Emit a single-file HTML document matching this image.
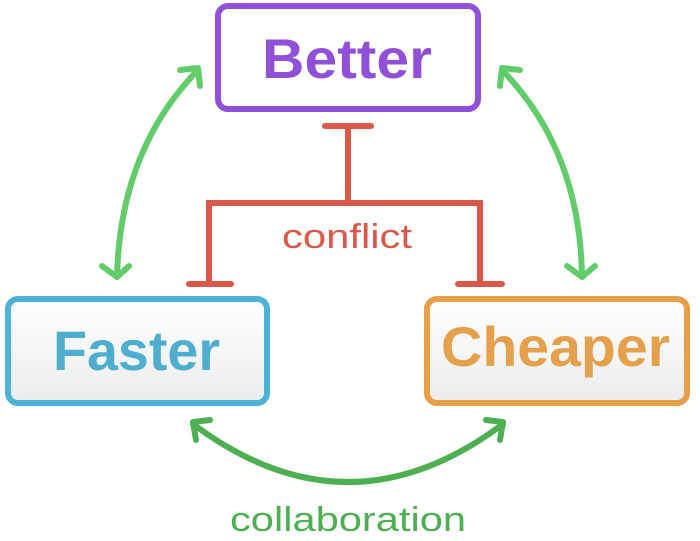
<!DOCTYPE html>
<html><head><style>
body{margin:0;background:#fff;}
svg{display:block;}
text{font-family:"Liberation Sans",sans-serif;}
</style></head><body>
<svg width="700" height="541" viewBox="0 0 700 541" xmlns="http://www.w3.org/2000/svg">
<defs>
<linearGradient id="g" x1="0" y1="0" x2="0" y2="1"><stop offset="0" stop-color="#ffffff"/><stop offset="1" stop-color="#ececec"/></linearGradient>
</defs>
<rect x="218" y="6" width="260" height="103" rx="10" fill="#fff" stroke="#9050d8" stroke-width="6"/>
<text x="262" y="78" font-size="56" font-weight="bold" fill="#9050d8" textLength="170" lengthAdjust="spacingAndGlyphs">Better</text>
<rect x="8" y="299" width="259" height="104" rx="10" fill="url(#g)" stroke="#4eb2d6" stroke-width="6"/>
<text x="53" y="370" font-size="56" font-weight="bold" fill="#4eaed0" textLength="167" lengthAdjust="spacingAndGlyphs">Faster</text>
<rect x="427" y="299" width="260" height="104" rx="10" fill="url(#g)" stroke="#e8a048" stroke-width="6"/>
<text x="441" y="366" font-size="56" font-weight="bold" fill="#e4a04a" textLength="229" lengthAdjust="spacingAndGlyphs">Cheaper</text>
<g stroke="#d9584a" stroke-width="6" fill="none" stroke-linecap="round">
<line x1="325" y1="126" x2="371" y2="126"/>
<line x1="348" y1="126" x2="348" y2="203"/>
<polyline points="209,283 209,203 480,203 480,283"/>
<line x1="189" y1="284" x2="231" y2="284"/>
<line x1="458" y1="284" x2="502" y2="284"/>
</g>
<text x="282" y="248" font-size="34" fill="#d9584a" textLength="130" lengthAdjust="spacingAndGlyphs">conflict</text>
<g stroke="#62cc6a" stroke-width="6" fill="none" stroke-linecap="round" stroke-linejoin="round">
<path d="M198,70 Q120,150 117,277"/>
<polyline points="180,70 198,68 200,86"/>
<polyline points="102,266 117,277 129,266"/>
<path d="M502,70 Q580,150 582,277"/>
<polyline points="520,70 502,68 500,86"/>
<polyline points="567,266 582,277 595,266"/>
</g>
<g stroke="#4caf50" stroke-width="6" fill="none" stroke-linecap="round" stroke-linejoin="round">
<path d="M193,424 Q348,540 503,424"/>
<polyline points="196,440 193,422 210,420"/>
<polyline points="500,440 503,422 486,420"/>
</g>
<text x="230" y="531" font-size="34" fill="#4caf50" textLength="236" lengthAdjust="spacingAndGlyphs">collaboration</text>
</svg>
</body></html>
